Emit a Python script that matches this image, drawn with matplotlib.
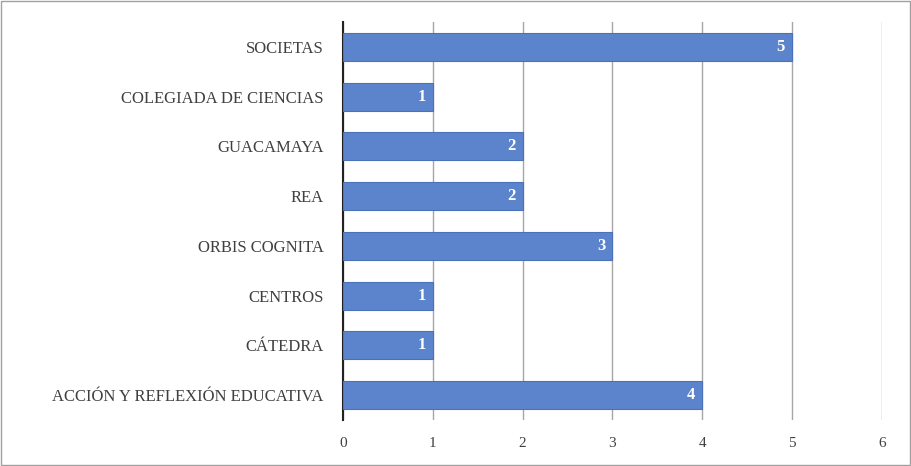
import matplotlib
matplotlib.use("Agg")
import matplotlib.pyplot as plt
from matplotlib.patches import Rectangle

categories = ["SOCIETAS", "COLEGIADA DE CIENCIAS", "GUACAMAYA", "REA", "ORBIS COGNITA",
              "CENTROS", "CÁTEDRA", "ACCIÓN Y REFLEXIÓN EDUCATIVA"]
values = [5, 1, 2, 2, 3, 1, 1, 4]
xticks = [0, 1, 2, 3, 4, 5, 6]

plt.rcParams["font.family"] = "Liberation Serif"
fig = plt.figure(figsize=(9.12, 4.66), dpi=100)
fig.patches.append(Rectangle((0.001, 0.002), 0.997, 0.995, transform=fig.transFigure,
                             fill=False, edgecolor="#a0a0a0", lw=1))
ax = fig.add_axes([0.376, 0.0987, 0.591, 0.854])
ypos = list(range(len(categories)))[::-1]
ax.barh(ypos, values, height=0.56, color="#5b84cc", edgecolor="#4a72b8", lw=0.8, zorder=3)
for y, v in zip(ypos, values):
    ax.text(v - 0.08, y, str(v), ha="right", va="center", color="white",
            fontweight="bold", fontsize=12, zorder=4)
ax.set_yticks(ypos)
ax.set_yticklabels(categories, fontsize=12, color="#404040")
ax.set_xticks(xticks)
ax.set_xticklabels([str(t) for t in xticks], fontsize=11, color="#404040")
ax.set_xlim(0, 6)
ax.set_ylim(-0.5, len(categories) - 0.5)
ax.grid(axis="x", color="#a6a6a6", lw=1, zorder=0)
for s in ["top", "right", "bottom"]:
    ax.spines[s].set_visible(False)
ax.spines["left"].set_color("#222222")
ax.spines["left"].set_linewidth(1.5)
ax.tick_params(length=0, pad=12)
ax.tick_params(axis="y", pad=14)
fig.savefig("out.png", dpi=100)
